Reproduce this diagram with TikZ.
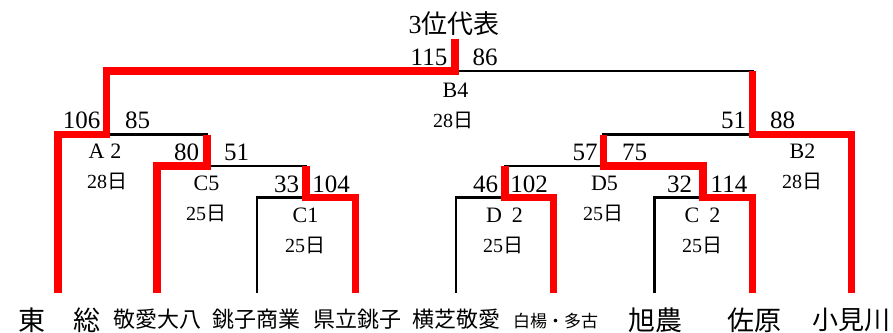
\documentclass[tikz,border=0pt]{standalone}
\usepackage{fontspec}
\setmainfont{Liberation Serif}
\newfontfamily\cjk{Noto Sans CJK JP}
\begin{document}
\begin{tikzpicture}[x=1pt,y=-1pt,
  blk/.style={line width=2.8pt, black, line join=miter},
  win/.style={line width=7.5pt, red, line join=miter},
  score/.style={font=\fontsize{25}{25}\selectfont, anchor=base, inner sep=0pt},
  mlabel/.style={font=\fontsize{22}{22}\selectfont, anchor=base, inner sep=0pt},
  day/.style={font=\fontsize{20}{20}\selectfont, anchor=base, inner sep=0pt},
  ttl/.style={font=\fontsize{26}{26}\selectfont, anchor=base, inner sep=0pt},
  teamL/.style={font=\cjk\fontsize{27}{27}\selectfont, anchor=center, inner sep=0pt},
  teamM/.style={font=\cjk\fontsize{22}{22}\selectfont, anchor=center, inner sep=0pt},
  teamS/.style={font=\cjk\fontsize{17}{17}\selectfont, anchor=center, inner sep=0pt}]
\useasboundingbox (0,0) rectangle (893,332);
% leaves
\coordinate (L1) at (58,293);
\coordinate (L2) at (157,293);
\coordinate (L3) at (257,293);
\coordinate (L4) at (355.5,293);
\coordinate (L5) at (456,293);
\coordinate (L6) at (553.5,293);
\coordinate (L7) at (654.5,293);
\coordinate (L8) at (752.5,293);
\coordinate (L9) at (851.5,293);
% match points
\coordinate (C1) at (306,197.5);
\coordinate (D2) at (505,197.5);
\coordinate (C2) at (703,197.5);
\coordinate (C5) at (207,166);
\coordinate (D5) at (603.5,166);
\coordinate (A2) at (106.5,134.5);
\coordinate (B2) at (752.5,134.5);
\coordinate (B4) at (455,71);
\coordinate (W) at (455,39);
% black brackets
\draw[blk] (L3) |- (C1) -| (L4);
\draw[blk] (L2) |- (C5) -| (C1);
\draw[blk] (L1) |- (A2) -| (C5);
\draw[blk] (L5) |- (D2) -| (L6);
\draw[blk] (L7) |- (C2) -| (L8);
\draw[blk] (D2) |- (D5) -| (C2);
\draw[blk] (D5) |- (B2) -| (L9);
\draw[blk] (A2) |- (B4) -| (B2);
% winner paths
\draw[win] (L4) |- (C1) -- (C1 |- C5);
\draw[win] (L2) |- (C5) -- (C5 |- A2);
\draw[win] (L1) |- (A2) |- (B4) -- (W);
\draw[win] (L6) |- (D2) -- (D2 |- D5);
\draw[win] (L8) |- (C2) |- (D5) -- (D5 |- B2);
\draw[win] (L9) |- (B2) -- (B2 |- B4);
% title and labels
\node[ttl] (top) at (454,33) {3{\cjk 位代表}};
\node[score] (s115) at (429,65) {115};
\node[score] (s86) at (485,65) {86};
\node[mlabel] (lB4) at (455.5,97) {B4};
\node[day] (dB4) at (453,127) {28{\cjk 日}};
\node[score] (s106) at (81.5,128) {106};
\node[score] (s85) at (137.5,128) {85};
\node[mlabel] (lA2) at (105,158) {A\hspace{6pt}2};
\node[day] (dA2) at (107,188) {28{\cjk 日}};
\node[score] (s80) at (186.5,160) {80};
\node[score] (s51a) at (236.5,160) {51};
\node[mlabel] (lC5) at (206.5,190) {C5};
\node[day] (dC5) at (206,220) {25{\cjk 日}};
\node[score] (s33) at (286.5,192) {33};
\node[score] (s104) at (331,192) {104};
\node[mlabel] (lC1) at (305.5,222) {C1};
\node[day] (dC1) at (305,252) {25{\cjk 日}};
\node[score] (s51b) at (733.5,128) {51};
\node[score] (s88) at (782.5,128) {88};
\node[mlabel] (lB2) at (802.5,158) {B2};
\node[day] (dB2) at (802,188) {28{\cjk 日}};
\node[score] (s57) at (585,160) {57};
\node[score] (s75) at (634.5,160) {75};
\node[score] (s46) at (485.5,192) {46};
\node[score] (s102) at (529,192) {102};
\node[mlabel] (lD5) at (604.5,190) {D5};
\node[day] (dD5) at (603,220) {25{\cjk 日}};
\node[score] (s32) at (679.5,192) {32};
\node[score] (s114) at (729,192) {114};
\node[mlabel] (lD2) at (504.5,222) {D\hspace{10pt}2};
\node[day] (dD2) at (503,252) {25{\cjk 日}};
\node[mlabel] (lC2) at (702.5,222) {C\hspace{10pt}2};
\node[day] (dC2) at (702,252) {25{\cjk 日}};
% teams
\node[teamL] (t1a) at (31.5,320) {東};
\node[teamL] (t1b) at (86.5,320) {総};
\node[teamM] (t2) at (157.5,319) {敬愛大八};
\node[teamM] (t3) at (256.5,319) {銚子商業};
\node[teamM] (t4) at (357.5,319) {県立銚子};
\node[teamM] (t5) at (456.5,319) {横芝敬愛};
\node[teamS] (t6) at (555.5,321) {白楊・多古};
\node[teamL] (t7) at (655,320) {旭農};
\node[teamL] (t8) at (754,320) {佐原};
\node[teamL, font=\cjk\fontsize{26}{26}\selectfont] (t9) at (851.5,320) {小見川};
\end{tikzpicture}
\end{document}
